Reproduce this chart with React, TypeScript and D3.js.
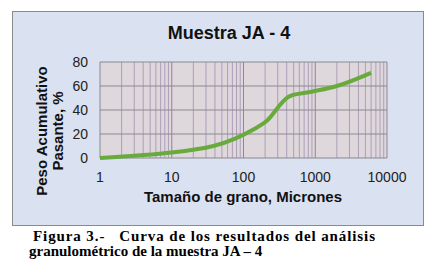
import React from "react";
import * as d3 from "d3";

const sizes = [1, 10, 38, 75, 150, 212, 425, 850, 2000, 6000];
const passing = [0, 4.5, 10, 16, 25, 31, 51, 55, 60, 71];
const yTicks = [0, 20, 40, 60, 80];
const xTicks = [1, 10, 100, 1000, 10000];
const title = "Muestra JA - 4";
const xTitle = "Tamaño de grano, Micrones";
const yTitle1 = "Peso Acumulativo";
const yTitle2 = "Pasante, %";
const caption1 = "Figura 3.-   Curva de los resultados del análisis";
const caption2 = "granulométrico de la muestra JA – 4";

export default function App() {
  const W = 440, H = 276;
  const x = d3.scaleLog().domain([1, 10000]).range([100, 387]);
  const y = d3.scaleLinear().domain([0, 80]).range([158, 62]);
  const minor: number[] = [];
  for (let d = 1; d < 10000; d *= 10) for (let k = 2; k < 10; k++) minor.push(d * k);
  const line = d3
    .line<number>()
    .x((_, i) => x(sizes[i]))
    .y((v) => y(v))
    .curve(d3.curveCatmullRom.alpha(0.5));
  const sans = "'Liberation Sans', Arial, sans-serif";
  const serif = "'Liberation Serif', 'Times New Roman', serif";
  return (
    <svg width={W} height={H} style={{ position: "absolute", left: 0, top: 0 }}>
      <rect x={0} y={0} width={W} height={H} fill="#fff" />
      <rect x={12.5} y={11.5} width={411} height={214} fill="#dae1f1" stroke="#8a8a8a" />
      <rect x={100} y={62} width={287} height={96} fill="#ded7dc" />
      {minor.map((m) => (
        <line key={m} x1={x(m)} x2={x(m)} y1={62} y2={158} stroke="#ad9fb9" strokeWidth={1} />
      ))}
      {xTicks.map((t) => (
        <line key={t} x1={x(t)} x2={x(t)} y1={62} y2={158} stroke="#8c8890" strokeWidth={1} />
      ))}
      {yTicks.map((t) => (
        <line key={t} x1={100} x2={387} y1={y(t)} y2={y(t)} stroke="#8c8890" strokeWidth={1} />
      ))}
      <path d={line(passing) || ""} fill="none" stroke="#69aa3c" strokeWidth={4} strokeLinejoin="round" />
      <text x={229} y={39} textAnchor="middle" fontFamily={sans} fontWeight="bold" fontSize={18} fill="#111">
        {title}
      </text>
      {yTicks.map((t) => (
        <text key={t} x={88} y={y(t) + 5} textAnchor="end" fontFamily={sans} fontSize={14} fill="#222">
          {t}
        </text>
      ))}
      {xTicks.map((t) => (
        <text key={t} x={x(t)} y={182} textAnchor="middle" fontFamily={sans} fontSize={14} fill="#222">
          {t}
        </text>
      ))}
      <text x={243} y={202} textAnchor="middle" fontFamily={sans} fontWeight="bold" fontSize={15} fill="#111">
        {xTitle}
      </text>
      <text transform="translate(47,131) rotate(-90)" textAnchor="middle" fontFamily={sans} fontWeight="bold" fontSize={15} fill="#111">
        {yTitle1}
      </text>
      <text transform="translate(63,131) rotate(-90)" textAnchor="middle" fontFamily={sans} fontWeight="bold" fontSize={15} fill="#111">
        {yTitle2}
      </text>
      <text x={33} y={241} fontFamily={serif} fontWeight="bold" fontSize={15} fill="#000" textLength={342} lengthAdjust="spacing" style={{ whiteSpace: "pre" }}>
        {caption1}
      </text>
      <text x={29} y={256} fontFamily={serif} fontWeight="bold" fontSize={15} fill="#000">
        {caption2}
      </text>
    </svg>
  );
}
